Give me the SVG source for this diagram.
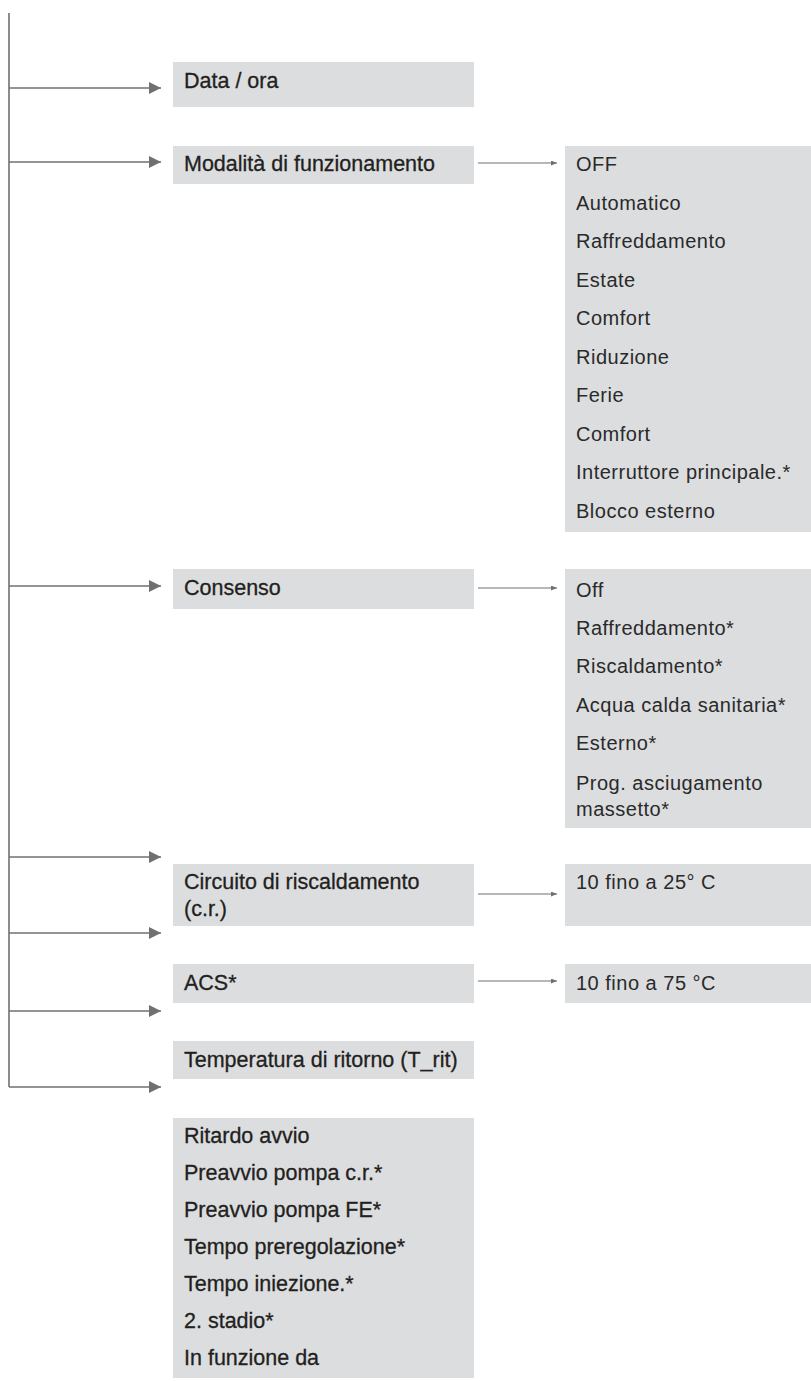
<svg xmlns="http://www.w3.org/2000/svg" width="811" height="1381" viewBox="0 0 811 1381">
<style>
.box{fill:#dcdddf}
.l{font-family:"Liberation Sans",Arial,sans-serif;font-size:21.5px;fill:#231f20;stroke:#231f20;stroke-width:0.3}
.r{font-family:"Liberation Sans",Arial,sans-serif;font-size:20px;letter-spacing:0.5px;fill:#2a2a2a}
.main{stroke:#6f7072;stroke-width:1.6;fill:none}
.sub{stroke:#6f7072;stroke-width:1.1;fill:none}
</style>
<defs>
<marker id="big" markerUnits="userSpaceOnUse" markerWidth="12" markerHeight="12" refX="12" refY="6" orient="auto"><path d="M0,0 L12,6 L0,12 z" fill="#6f7072"/></marker>
<marker id="small" markerUnits="userSpaceOnUse" markerWidth="6" markerHeight="5" refX="6" refY="2.5" orient="auto"><path d="M0,0 L6,2.5 L0,5 z" fill="#6f7072"/></marker>
</defs>
<g id="connectors">
<line class="main" x1="9" y1="13" x2="9" y2="1087"/>
<line class="main" x1="9" y1="88" x2="161" y2="88" marker-end="url(#big)"/>
<line class="main" x1="9" y1="162" x2="161" y2="162" marker-end="url(#big)"/>
<line class="main" x1="9" y1="586" x2="161" y2="586" marker-end="url(#big)"/>
<line class="main" x1="9" y1="857" x2="161" y2="857" marker-end="url(#big)"/>
<line class="main" x1="9" y1="933" x2="161" y2="933" marker-end="url(#big)"/>
<line class="main" x1="9" y1="1011" x2="161" y2="1011" marker-end="url(#big)"/>
<line class="main" x1="9" y1="1087" x2="161" y2="1087" marker-end="url(#big)"/>
<line class="sub" x1="478" y1="163" x2="557" y2="163" marker-end="url(#small)"/>
<line class="sub" x1="478" y1="588" x2="557" y2="588" marker-end="url(#small)"/>
<line class="sub" x1="478" y1="894" x2="557" y2="894" marker-end="url(#small)"/>
<line class="sub" x1="478" y1="981" x2="557" y2="981" marker-end="url(#small)"/>
</g>
<g id="data-ora"><rect class="box" x="173" y="62" width="301" height="45"/><text class="l" x="184" y="88">Data / ora</text></g>
<g id="modalita"><rect class="box" x="173" y="146" width="301" height="38"/><text class="l" x="184" y="171">Modalità di funzionamento</text></g>
<g id="modalita-opzioni"><rect class="box" x="565" y="146" width="246" height="386"/>
<text class="r" x="576" y="171">OFF</text>
<text class="r" x="576" y="209.5">Automatico</text>
<text class="r" x="576" y="248">Raffreddamento</text>
<text class="r" x="576" y="286.5">Estate</text>
<text class="r" x="576" y="325">Comfort</text>
<text class="r" x="576" y="363.5">Riduzione</text>
<text class="r" x="576" y="402">Ferie</text>
<text class="r" x="576" y="440.5">Comfort</text>
<text class="r" x="576" y="479">Interruttore principale.*</text>
<text class="r" x="576" y="517.5">Blocco esterno</text>
</g>
<g id="consenso"><rect class="box" x="173" y="569" width="301" height="40"/><text class="l" x="184" y="595">Consenso</text></g>
<g id="consenso-opzioni"><rect class="box" x="565" y="569" width="246" height="259"/>
<text class="r" x="576" y="597">Off</text>
<text class="r" x="576" y="635">Raffreddamento*</text>
<text class="r" x="576" y="673">Riscaldamento*</text>
<text class="r" x="576" y="712">Acqua calda sanitaria*</text>
<text class="r" x="576" y="750">Esterno*</text>
<text class="r" x="576" y="790">Prog. asciugamento</text>
<text class="r" x="576" y="816">massetto*</text>
</g>
<g id="circuito"><rect class="box" x="173" y="864" width="301" height="62"/><text class="l" x="184" y="889">Circuito di riscaldamento</text><text class="l" x="184" y="916">(c.r.)</text></g>
<g id="circuito-valore"><rect class="box" x="565" y="864" width="246" height="62"/><text class="r" x="576" y="889">10 fino a 25° C</text></g>
<g id="acs"><rect class="box" x="173" y="964" width="301" height="39"/><text class="l" x="184" y="990">ACS*</text></g>
<g id="acs-valore"><rect class="box" x="565" y="964" width="246" height="39"/><text class="r" x="576" y="990">10 fino a 75 °C</text></g>
<g id="temperatura"><rect class="box" x="173" y="1041" width="301" height="38"/><text class="l" x="184" y="1067">Temperatura di ritorno (T_rit)</text></g>
<g id="parametri"><rect class="box" x="173" y="1118" width="301" height="260"/>
<text class="l" x="184" y="1143">Ritardo avvio</text>
<text class="l" x="184" y="1180">Preavvio pompa c.r.*</text>
<text class="l" x="184" y="1217">Preavvio pompa FE*</text>
<text class="l" x="184" y="1254">Tempo preregolazione*</text>
<text class="l" x="184" y="1291">Tempo iniezione.*</text>
<text class="l" x="184" y="1328">2. stadio*</text>
<text class="l" x="184" y="1365">In funzione da</text>
</g>
</svg>
